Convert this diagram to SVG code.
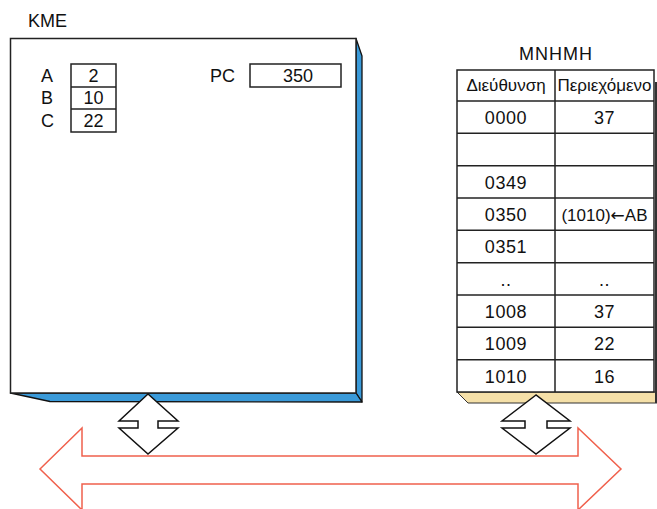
<svg xmlns="http://www.w3.org/2000/svg" width="657" height="509" viewBox="0 0 657 509">
<style>
text{font-family:"Liberation Sans",Arial,sans-serif;fill:#111}
.t{font-size:18px}
.c{text-anchor:middle}
.h{font-size:17px;text-anchor:middle}
.d{font-size:18px;text-anchor:middle;letter-spacing:0.6px}
.ar{font-family:"DejaVu Sans",sans-serif}
.box{fill:#fff;stroke:#222;stroke-width:1.5}
.ln{stroke:#222;stroke-width:1.5;fill:none}
.blue{fill:#3a9ad9;stroke:#111;stroke-width:1.3;stroke-linejoin:round}
.tan{fill:#f5e0a8;stroke:#333;stroke-width:1}
.dia{fill:#fff;stroke:#111;stroke-width:1.5;stroke-linejoin:miter}
.bus{fill:#fff;stroke:#f0604c;stroke-width:1.5}
</style>
<rect width="657" height="509" fill="#fff"/>
<g id="bus">
<polygon class="bus" points="40,469 82,428 82,456 578,456 578,428 621,469 578,510 578,484 82,484 82,510"/>
</g>
<g id="kme">
<text class="t" x="28" y="27" font-size="19">KME</text>
<polygon class="blue" points="356,38.5 362,56 362,402 356,393"/>
<polygon class="blue" points="10.5,393 50,401.5 362,402 356,393"/>
<rect class="box" x="10.5" y="38.5" width="345.5" height="354.5"/>
<g id="registers">
<rect class="box" x="71" y="64" width="45" height="68"/>
<line class="ln" x1="71" y1="87" x2="116" y2="87"/>
<line class="ln" x1="71" y1="109" x2="116" y2="109"/>
<text class="t" x="41" y="82">A</text>
<text class="t" x="41" y="104">B</text>
<text class="t" x="41" y="127">C</text>
<text class="t c" x="93.5" y="82">2</text>
<text class="t c" x="93.5" y="104">10</text>
<text class="t c" x="93.5" y="127">22</text>
</g>
<g id="pc">
<text class="t" x="210" y="82">PC</text>
<rect class="box" x="250" y="64" width="91" height="23"/>
<text class="t c" x="298" y="82">350</text>
</g>
</g>
<g id="memory">
<text class="t c" x="556" y="60" letter-spacing="1">MNHMH</text>
<polygon class="tan" points="457,392 468,403 657,403 657,392"/>
<line x1="656" y1="82" x2="656" y2="403" stroke="#333" stroke-width="2"/>
<rect class="box" x="457" y="70" width="197" height="322"/>
<line class="ln" x1="555" y1="70" x2="555" y2="392"/>
<line class="ln" x1="457" y1="101" x2="654" y2="101"/>
<line class="ln" x1="457" y1="133.3" x2="654" y2="133.3"/>
<line class="ln" x1="457" y1="165.7" x2="654" y2="165.7"/>
<line class="ln" x1="457" y1="198" x2="654" y2="198"/>
<line class="ln" x1="457" y1="230.3" x2="654" y2="230.3"/>
<line class="ln" x1="457" y1="262.7" x2="654" y2="262.7"/>
<line class="ln" x1="457" y1="295" x2="654" y2="295"/>
<line class="ln" x1="457" y1="327.3" x2="654" y2="327.3"/>
<line class="ln" x1="457" y1="359.7" x2="654" y2="359.7"/>
<text class="h" x="506" y="91">Διεύθυνση</text>
<text class="h" x="604.5" y="91">Περιεχόμενο</text>
<text class="d" x="506" y="124">0000</text><text class="d" x="604.5" y="124">37</text>
<text class="d" x="506" y="189">0349</text>
<text class="d" x="506" y="221">0350</text><text class="h" x="604.5" y="221" font-size="16">(1010)<tspan class="ar">←</tspan>AB</text>
<text class="d" x="506" y="253">0351</text>
<text class="d" x="506" y="286">..</text><text class="d" x="604.5" y="286">..</text>
<text class="d" x="506" y="318">1008</text><text class="d" x="604.5" y="318">37</text>
<text class="d" x="506" y="350">1009</text><text class="d" x="604.5" y="350">22</text>
<text class="d" x="506" y="383">1010</text><text class="d" x="604.5" y="383">16</text>
</g>
<g id="connectors">
<path class="dia" d="M148,394 L119,421 L138,421 L138,428 L119,428 L148,454 L178,428 L158,428 L158,421 L178,421 Z"/>
<path class="dia" d="M536,395 L502,421 L525,421 L525,428 L502,428 L536,454 L570,428 L547,428 L547,421 L570,421 Z"/>
</g>
</svg>
